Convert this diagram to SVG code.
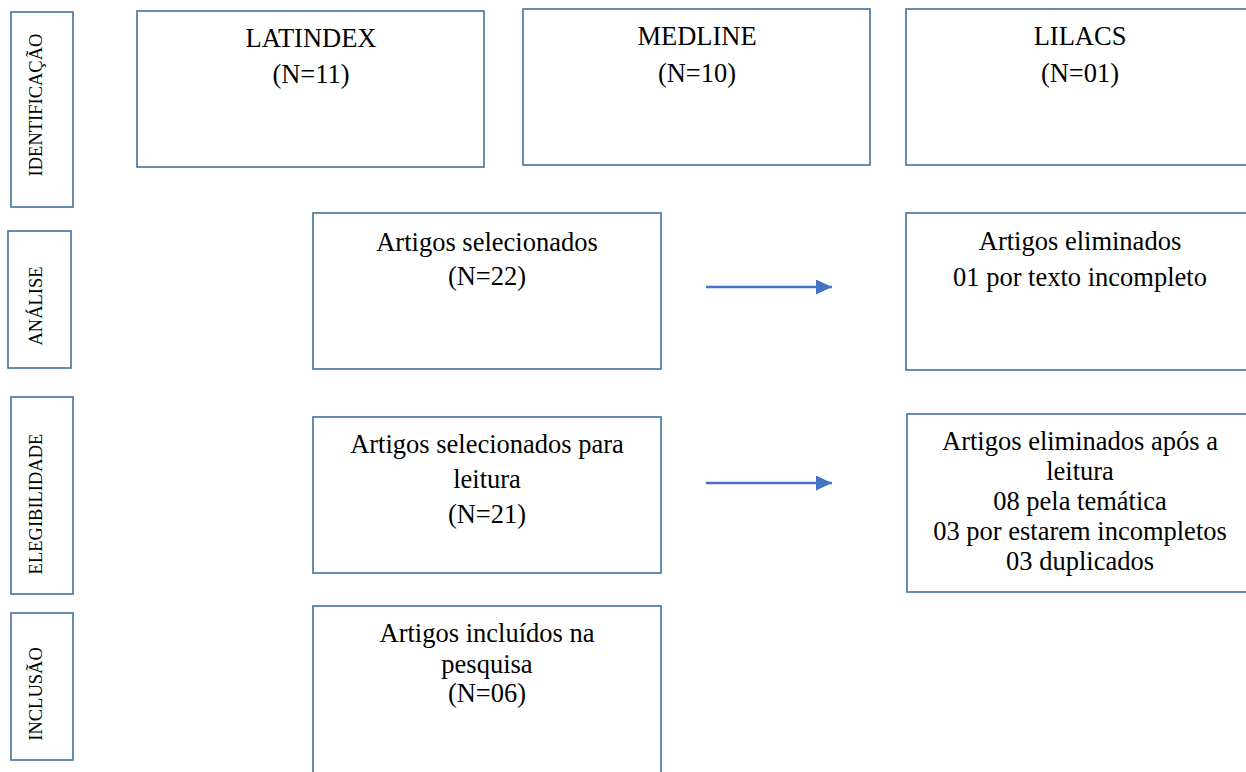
<svg xmlns="http://www.w3.org/2000/svg" width="1246" height="772" viewBox="0 0 1246 772">
<style>
.box{fill:#ffffff;stroke:#41719C;stroke-width:1.6}
.t{font-family:"Liberation Serif","Times New Roman",serif;font-size:26.5px;fill:#000;text-anchor:middle}
.lbl{font-family:"Liberation Serif","Times New Roman",serif;font-size:18.5px;fill:#000;text-anchor:middle}
.conn{stroke:#4472C4;stroke-width:2.5;fill:none}
</style>
<defs>
<marker id="ah" markerUnits="userSpaceOnUse" markerWidth="17" markerHeight="16" refX="16" refY="7.5" orient="auto">
<path d="M0,0 L16,7.5 L0,15 Z" fill="#4472C4"/>
</marker>
</defs>
<rect width="1246" height="772" fill="#ffffff"/>
<g id="lbl-identificacao">
<rect class="box" x="11" y="12" width="62" height="195"/>
<text class="lbl" transform="translate(42,105) rotate(-90)">IDENTIFICAÇÃO</text>
</g>
<g id="lbl-analise">
<rect class="box" x="8" y="231" width="63" height="137"/>
<text class="lbl" transform="translate(42,306) rotate(-90)">ANÁLISE</text>
</g>
<g id="lbl-elegibilidade">
<rect class="box" x="11" y="397" width="62" height="197"/>
<text class="lbl" transform="translate(42,504) rotate(-90)">ELEGIBILIDADE</text>
</g>
<g id="lbl-inclusao">
<rect class="box" x="11" y="613" width="62" height="147"/>
<text class="lbl" transform="translate(42,694) rotate(-90)">INCLUSÃO</text>
</g>
<g id="latindex">
<rect class="box" x="137" y="11" width="347" height="156"/>
<text class="t" x="311" y="47">LATINDEX</text>
<text class="t" x="311" y="83">(N=11)</text>
</g>
<g id="medline">
<rect class="box" x="523" y="9" width="347" height="156"/>
<text class="t" x="697" y="45">MEDLINE</text>
<text class="t" x="697" y="82">(N=10)</text>
</g>
<g id="lilacs">
<rect class="box" x="906" y="9" width="360" height="156"/>
<text class="t" x="1080" y="45">LILACS</text>
<text class="t" x="1080" y="82">(N=01)</text>
</g>
<g id="selecionados">
<rect class="box" x="313" y="213" width="348" height="156"/>
<text class="t" x="487" y="251">Artigos selecionados</text>
<text class="t" x="487" y="285">(N=22)</text>
</g>
<g id="eliminados">
<rect class="box" x="906" y="213" width="360" height="157"/>
<text class="t" x="1080" y="250">Artigos eliminados</text>
<text class="t" x="1080" y="286">01 por texto incompleto</text>
</g>
<g id="selecionados-leitura">
<rect class="box" x="313" y="417" width="348" height="156"/>
<text class="t" x="487" y="453">Artigos selecionados para</text>
<text class="t" x="487" y="488">leitura</text>
<text class="t" x="487" y="523">(N=21)</text>
</g>
<g id="eliminados-leitura">
<rect class="box" x="907" y="414" width="360" height="178"/>
<text class="t" x="1080" y="450">Artigos eliminados após a</text>
<text class="t" x="1080" y="480">leitura</text>
<text class="t" x="1080" y="510">08 pela temática</text>
<text class="t" x="1080" y="540">03 por estarem incompletos</text>
<text class="t" x="1080" y="570">03 duplicados</text>
</g>
<g id="incluidos">
<rect class="box" x="313" y="606" width="348" height="190"/>
<text class="t" x="487" y="642">Artigos incluídos na</text>
<text class="t" x="487" y="673">pesquisa</text>
<text class="t" x="487" y="702">(N=06)</text>
</g>
<g id="connectors">
<line class="conn" x1="706" y1="287" x2="832" y2="287" marker-end="url(#ah)"/>
<line class="conn" x1="706" y1="483" x2="832" y2="483" marker-end="url(#ah)"/>
</g>
</svg>
